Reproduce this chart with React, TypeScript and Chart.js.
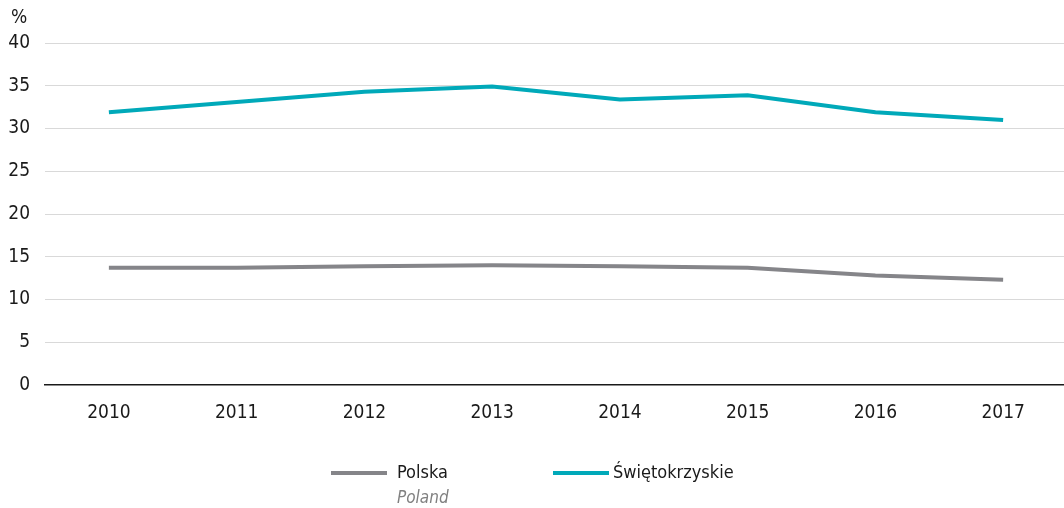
import React, { useEffect, useRef } from "react";
import { Chart, registerables } from "chart.js";

Chart.register(...registerables);

const years = ["2010", "2011", "2012", "2013", "2014", "2015", "2016", "2017"];
const polska = [13.7, 13.7, 13.9, 14.0, 13.9, 13.7, 12.8, 12.3];
const swietokrzyskie = [31.9, 33.1, 34.3, 34.9, 33.4, 33.9, 31.9, 31.0];
const yTicks = [0, 5, 10, 15, 20, 25, 30, 35, 40];

const FONT = "'DejaVu Sans Condensed', 'DejaVu Sans', sans-serif";
const GRAY = "#858589";
const TEAL = "#00a9b9";

const overlay = {
  id: "overlay",
  afterDraw(chart: any) {
    const ctx = chart.ctx;
    ctx.save();
    ctx.fillStyle = "#1a1a1a";
    ctx.font = `condensed 19px ${FONT}`;
    ctx.textBaseline = "middle";
    ctx.textAlign = "left";
    ctx.fillText("%", 11, 18);

    // legend
    ctx.lineWidth = 4;
    ctx.lineCap = "butt";
    ctx.strokeStyle = GRAY;
    ctx.beginPath();
    ctx.moveTo(331, 473);
    ctx.lineTo(387, 473);
    ctx.stroke();
    ctx.strokeStyle = TEAL;
    ctx.beginPath();
    ctx.moveTo(553, 473);
    ctx.lineTo(609, 473);
    ctx.stroke();

    ctx.font = `condensed 18px ${FONT}`;
    ctx.fillStyle = "#1a1a1a";
    ctx.fillText("Polska", 397, 473);
    ctx.fillText("Świętokrzyskie", 613, 473);
    ctx.font = `italic condensed 17px ${FONT}`;
    ctx.fillStyle = "#808080";
    ctx.fillText("Poland", 397, 499);
    ctx.restore();
  },
};

export default function App() {
  const ref = useRef<HTMLCanvasElement | null>(null);
  useEffect(() => {
    if (!ref.current) return;
    const chart = new Chart(ref.current, {
      type: "line",
      data: {
        labels: years,
        datasets: [
          {
            label: "Polska",
            data: polska,
            borderColor: GRAY,
            backgroundColor: GRAY,
            borderWidth: 4,
            pointRadius: 0,
            tension: 0,
          },
          {
            label: "Świętokrzyskie",
            data: swietokrzyskie,
            borderColor: TEAL,
            backgroundColor: TEAL,
            borderWidth: 4,
            pointRadius: 0,
            tension: 0,
          },
        ],
      },
      options: {
        responsive: false,
        animation: false,
        devicePixelRatio: 1,
        layout: { padding: { top: 43, right: 3, bottom: 0, left: 0 } },
        plugins: {
          legend: { display: false },
          tooltip: { enabled: false },
        },
        scales: {
          x: {
            offset: true,
            grid: { display: false, drawTicks: false },
            border: { display: true, color: "#1a1a1a", width: 1.5 },
            ticks: {
              color: "#1a1a1a",
              font: { family: FONT, size: 19, style: "condensed" as any },
              padding: 17,
              maxRotation: 0,
            },
            afterFit(scale: any) {
              scale.height = 123;
            },
          },
          y: {
            min: 0,
            max: 40,
            afterBuildTicks(scale: any) {
              scale.ticks = yTicks.map((v) => ({ value: v }));
            },
            grid: {
              color: (c: any) => (c.tick && c.tick.value === 0 ? "rgba(0,0,0,0)" : "#d9d9d9"),
              lineWidth: 1,
              drawTicks: false,
            },
            border: { display: false },
            ticks: {
              color: "#1a1a1a",
              font: { family: FONT, size: 19, style: "condensed" as any },
              padding: 15,
            },
            afterFit(scale: any) {
              scale.width = 45;
            },
          },
        },
      },
      plugins: [overlay],
    });
    return () => chart.destroy();
  }, []);
  return (
    <div style={{ position: "absolute", left: 0, top: 0, width: 1064, height: 508, overflow: "hidden", background: "#fff" }}>
      <canvas ref={ref} width={1070} height={508} style={{ display: "block" }} />
    </div>
  );
}
